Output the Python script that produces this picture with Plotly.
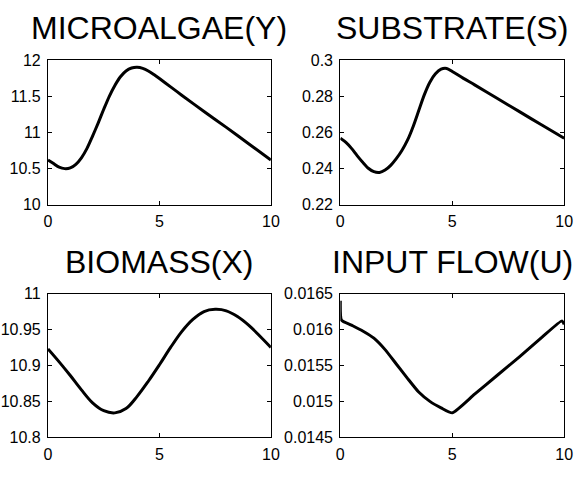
import plotly.graph_objects as go

# ---- data ----
t_y = [0, 0.25, 0.5, 0.75, 1.0, 1.25, 1.5, 1.75, 2.0, 2.25, 2.5, 2.75, 3.0, 3.25, 3.5,
       3.75, 4.0, 4.25, 4.5, 4.75, 5.0, 5.5, 6.0, 7.0, 8.0, 9.0, 10.0]
microalgae = [10.62, 10.57, 10.52, 10.50, 10.51, 10.56, 10.65, 10.78, 10.95, 11.13, 11.32,
              11.50, 11.65, 11.77, 11.85, 11.89, 11.90, 11.885, 11.85, 11.80, 11.745,
              11.63, 11.515, 11.29, 11.07, 10.845, 10.62]

t_s = [0, 0.25, 0.5, 0.75, 1.0, 1.25, 1.5, 1.75, 2.0, 2.25, 2.5, 2.75, 3.0, 3.25, 3.5,
       3.75, 4.0, 4.25, 4.5, 4.75, 5.0, 5.5, 6.0, 7.0, 8.0, 9.0, 10.0]
substrate = [0.2568, 0.2545, 0.2512, 0.2472, 0.2435, 0.2402, 0.2383, 0.2379, 0.2392, 0.2418,
             0.2455, 0.2500, 0.2557, 0.2632, 0.2720, 0.2808, 0.2878, 0.2924, 0.2950, 0.2954,
             0.2937, 0.2899, 0.2863, 0.2789, 0.2715, 0.2641, 0.2568]

t_x = [0, 0.5, 1.0, 1.5, 2.0, 2.5, 3.0, 3.5, 4.0, 4.5, 5.0, 5.5, 6.0, 6.5, 7.0, 7.5,
       8.0, 8.5, 9.0, 9.5, 10.0]
biomass = [10.923, 10.905, 10.886, 10.866, 10.848, 10.837, 10.834, 10.840, 10.857, 10.878,
           10.901, 10.925, 10.947, 10.964, 10.975, 10.978, 10.976, 10.968, 10.956, 10.941,
           10.925]

t_u = [0, 0.05, 0.5, 1.0, 1.5, 2.0, 2.5, 3.0, 3.5, 4.0, 4.5, 5.0, 6.0, 7.0, 8.0, 9.0,
       9.9, 10.0]
input_flow = [0.01640, 0.01613, 0.01606, 0.01598, 0.01588, 0.01572, 0.01552, 0.01532,
              0.01513, 0.01500, 0.01491, 0.01484, 0.01510, 0.01536, 0.01562, 0.01589,
              0.01612, 0.01607]

titles = ["MICROALGAE(Y)", "SUBSTRATE(S)", "BIOMASS(X)", "INPUT FLOW(U)"]
x_ticks = [0, 5, 10]
y_ticks = [
    [10, 10.5, 11, 11.5, 12],
    [0.22, 0.24, 0.26, 0.28, 0.3],
    [10.8, 10.85, 10.9, 10.95, 11],
    [0.0145, 0.015, 0.0155, 0.016, 0.0165],
]
y_ticktext = [
    ["10", "10.5", "11", "11.5", "12"],
    ["0.22", "0.24", "0.26", "0.28", "0.3"],
    ["10.8", "10.85", "10.9", "10.95", "11"],
    ["0.0145", "0.015", "0.0155", "0.016", "0.0165"],
]

series = [(t_y, microalgae), (t_s, substrate), (t_x, biomass), (t_u, input_flow)]
smooth = [0.8, 0.8, 1.0, 0.5]

W, H = 582, 482
# plot-area boxes in pixels: (left, right, top, bottom)
boxes = [(45, 273, 54, 204), (344, 573, 54, 204), (45, 273, 296, 445), (344, 573, 296, 445)]

fig = go.Figure()
font_family = "Liberation Sans, Arial, Helvetica, sans-serif"
annotations = []
for i, ((xs, ys), box) in enumerate(zip(series, boxes)):
    n = "" if i == 0 else str(i + 1)
    l, r, t, b = box
    xdom = [l / W, r / W]
    ydom = [1 - b / H, 1 - t / H]
    fig.add_trace(go.Scatter(x=xs, y=ys, mode="lines",
                             line=dict(color="black", width=3, shape="spline",
                                       smoothing=smooth[i]),
                             xaxis="x" + n, yaxis="y" + n, showlegend=False,
                             hoverinfo="skip"))
    common = dict(showgrid=False, zeroline=False, showline=True, linecolor="black",
                  linewidth=1.2, mirror="allticks", ticks="inside", ticklen=4,
                  tickcolor="black", tickwidth=1,
                  tickfont=dict(family=font_family, size=16, color="black"))
    yr = [y_ticks[i][0], y_ticks[i][-1]]
    fig.update_layout(**{
        "xaxis" + n: dict(domain=xdom, range=[0, 10], tickvals=x_ticks,
                          ticktext=[str(v) for v in x_ticks], anchor="y" + n,
                          ticklabelstandoff=2, **common),
        "yaxis" + n: dict(domain=ydom, range=yr, tickvals=y_ticks[i],
                          ticktext=y_ticktext[i], anchor="x" + n,
                          ticklabelstandoff=3, **common),
    })
    annotations.append(dict(text=titles[i], x=(xdom[0] + xdom[1]) / 2, y=ydom[1],
                            xref="paper", yref="paper", xanchor="center", yanchor="bottom",
                            yshift=12, showarrow=False,
                            font=dict(family=font_family, size=32, color="black")))

fig.update_layout(width=W, height=H, margin=dict(l=0, r=0, t=0, b=0),
                  paper_bgcolor="white", plot_bgcolor="white",
                  annotations=annotations)
fig.write_html("out.html")
